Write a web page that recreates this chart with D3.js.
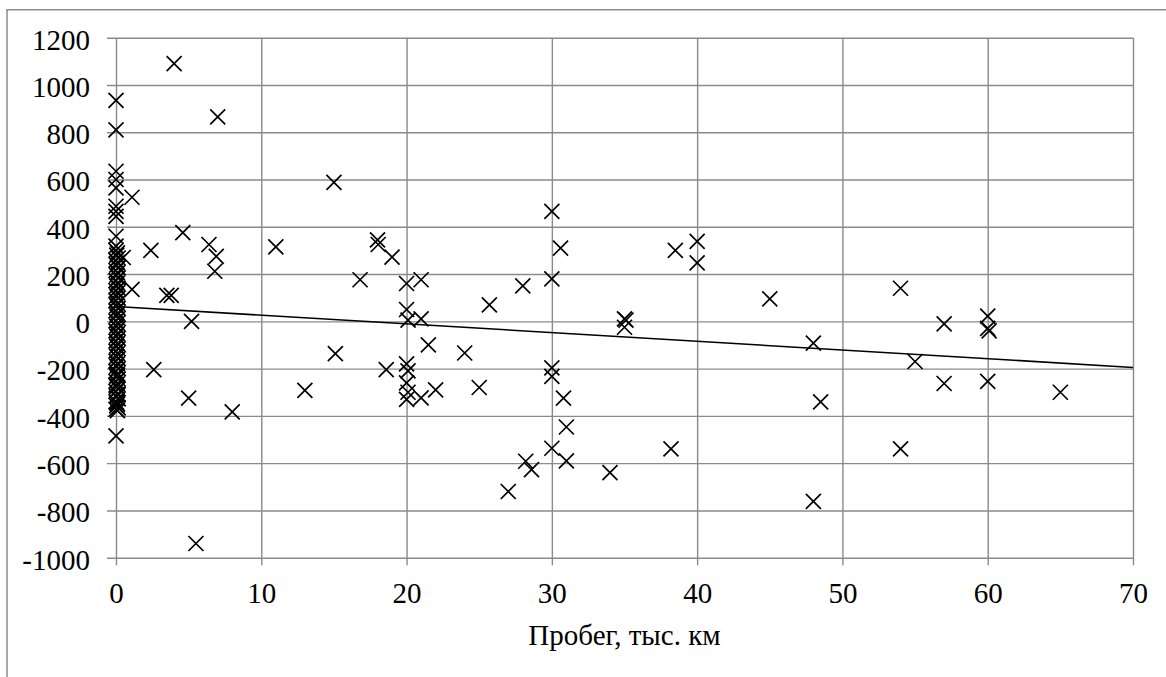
<!DOCTYPE html>
<html>
<head>
<meta charset="utf-8">
<script src="https://cdn.jsdelivr.net/npm/d3@7"></script>
<style>
  html, body { margin: 0; padding: 0; background: #fff; }
  svg { display: block; }
  svg text { font-family: "Liberation Serif", "Times New Roman", serif !important; fill: #000; }
</style>
</head>
<body>
<svg id="chart" width="1166" height="677"></svg>
<script>
// Пробег (тыс. км) и отклонение для точек вне нулевого пробега
const mileage = [
  4, 7, 1.1, 4.6, 2.4, 6.4, 6.9, 6.8, 11, 3.5, 3.8, 1.1, 5.2, 0.5,
  2.6, 5.0, 8, 5.5,
  15, 18, 18.05, 19, 16.8, 20, 21, 20, 20.1, 21, 25.7, 28, 30, 30.6, 30,
  35, 35, 35.1,
  15.1, 13, 18.6, 20, 20.1, 20, 20.1, 20, 21, 21.5, 22, 24, 25,
  30, 30, 30.8, 31, 30, 31, 28.2, 28.6, 27, 34,
  38.5, 40, 40, 45, 54, 57, 60, 60, 60.1,
  38.2, 48, 48.5, 48, 54, 55, 57, 60, 65
];
const deviation = [
  1090, 865, 525, 375, 300, 325, 275, 212, 315, 110, 110, 135, 0, 270,
  -204, -325, -383, -940,
  588, 345, 325, 272, 176, 160, 176, 50, 5, 10, 70, 150, 465, 310, 180,
  10, -25, 5,
  -137, -292, -204, -180, -210, -260, -300, -330, -324, -100, -290, -134, -280,
  -197, -233, -325, -447, -537, -590, -592, -627, -720, -640,
  300, 338, 247, 95, 140, -11, 22, -30, -40,
  -540, -92, -341, -762, -540, -170, -263, -254, -300
];

// Плотная группа точек при нулевом пробеге
const zeroMileage = [
  0, 0, 0, 0, 0, 0, 0, 0, 0, 0, 0,
  0, 0.1, 0.05, 0.15, 0, 0.1, 0.05, 0.15, 0, 0.1, 0.05, 0.15, 0, 0.1, 0.05, 0.15,
  0, 0.1, 0.05, 0.15, 0, 0.1, 0.05, 0.15, 0, 0.1, 0.05, 0.15, 0, 0.1, 0.05, 0.15,
  0, 0.1, 0.05, 0.15, 0, 0.1, 0.05, 0.15, 0, 0.1, 0.05, 0.15, 0, 0.1, 0.05, 0.15,
  0, 0.1, 0.05, 0.15, 0, 0.1, 0.05, 0.15, 0, 0.1, 0.05, 0.15, 0, 0.1, 0.05, 0.15,
  0, 0.1, 0.05, 0.15, 0, 0.1, 0.05, 0.15, 0, 0.1
];
const zeroDeviation = [
  935, 810, 635, 600, 565, 487, 465, 444, 360, 318, -485,
  300, 290, 280, 268, 258, 248, 238, 226, 215, 205, 195, 184, 172, 162, 150, 140,
  130, 120, 108, 98, 88, 76, 66, 55, 44, 34, 24, 12, 2, -8, -20, -30,
  -40, -52, -62, -72, -84, -94, -105, -116, -126, -136, -148, -158, -168, -180,
  -190, -200, -212, -222, -232, -244, -254, -264, -276, -286, -296, -308, -318, -328,
  -340, -350, -358, -366, -372, -378, -345, -310, -270, -230
];

// Линейный тренд
const trendX = [0, 70];
const trendY = [63, -195];

// Подписи осей
const xTicks = [0, 10, 20, 30, 40, 50, 60, 70];
const yTicks = [-1000, -800, -600, -400, -200, 0, 200, 400, 600, 800, 1000, 1200];
const xTitle = "Пробег, тыс. км";

const svg = d3.select("#chart");
const plotLeft = 116, plotRight = 1133, plotTop = 37.7, plotBottom = 557.7;
const grid = "#8a8a8a";
const serif = '"Liberation Serif", "Times New Roman", serif';

const x = d3.scaleLinear().domain([0, 70]).range([plotLeft, plotRight]);
const y = d3.scaleLinear().domain([-1000, 1200]).range([plotBottom, plotTop]);

// Внешняя рамка области диаграммы
svg.append("path")
  .attr("d", `M7,677 V9.7 H1166`)
  .attr("fill", "none")
  .attr("stroke", "#8c8c8c")
  .attr("stroke-width", 1.5);

// Ось значений с горизонтальной сеткой
const yAxis = d3.axisLeft(y).tickValues(yTicks)
  .tickSize(-(plotRight - plotLeft)).tickSizeOuter(0).tickPadding(0)
  .tickFormat(d => String(d));
const gy = svg.append("g").attr("transform", `translate(${plotLeft},0)`).call(yAxis)
  .attr("font-family", serif).attr("font-size", 29);
gy.select(".domain").remove();
gy.selectAll(".tick line")
  .attr("x1", -9)
  .attr("stroke", grid).attr("stroke-width", 1.4);
gy.selectAll(".tick text")
  .attr("x", -26).attr("dy", "0.39em")
  .attr("text-anchor", "end");

// Ось пробега с вертикальной сеткой
const xAxis = d3.axisBottom(x).tickValues(xTicks)
  .tickSize(-(plotBottom - plotTop)).tickSizeOuter(0).tickPadding(0)
  .tickFormat(d => String(d));
const gx = svg.append("g").attr("transform", `translate(0,${plotBottom})`).call(xAxis)
  .attr("font-family", serif).attr("font-size", 29);
gx.select(".domain").remove();
gx.selectAll(".tick line")
  .attr("y1", 7.5)
  .attr("stroke", grid).attr("stroke-width", 1.4);
gx.selectAll(".tick text")
  .attr("y", 45.3).attr("dy", 0);

// Подпись оси X
svg.append("text")
  .attr("x", (plotLeft + plotRight) / 2).attr("y", 645)
  .attr("text-anchor", "middle")
  .attr("font-family", serif)
  .attr("font-size", 29)
  .text(xTitle);

// Линия тренда
svg.append("path")
  .datum(trendX.map((v, i) => [v, trendY[i]]))
  .attr("d", d3.line().x(d => x(d[0])).y(d => y(d[1])))
  .attr("fill", "none")
  .attr("stroke", "#000")
  .attr("stroke-width", 1.6);

// Маркеры «×»
const points = mileage.map((v, i) => [v, deviation[i]])
  .concat(zeroMileage.map((v, i) => [v, zeroDeviation[i]]));
const h = 7.5;
svg.append("g").selectAll("path").data(points).join("path")
  .attr("d", d => {
    const cx = x(d[0]), cy = y(d[1]);
    return `M${cx - h},${cy - h}L${cx + h},${cy + h}M${cx - h},${cy + h}L${cx + h},${cy - h}`;
  })
  .attr("fill", "none")
  .attr("stroke", "#000")
  .attr("stroke-width", 1.7);
</script>
</body>
</html>
